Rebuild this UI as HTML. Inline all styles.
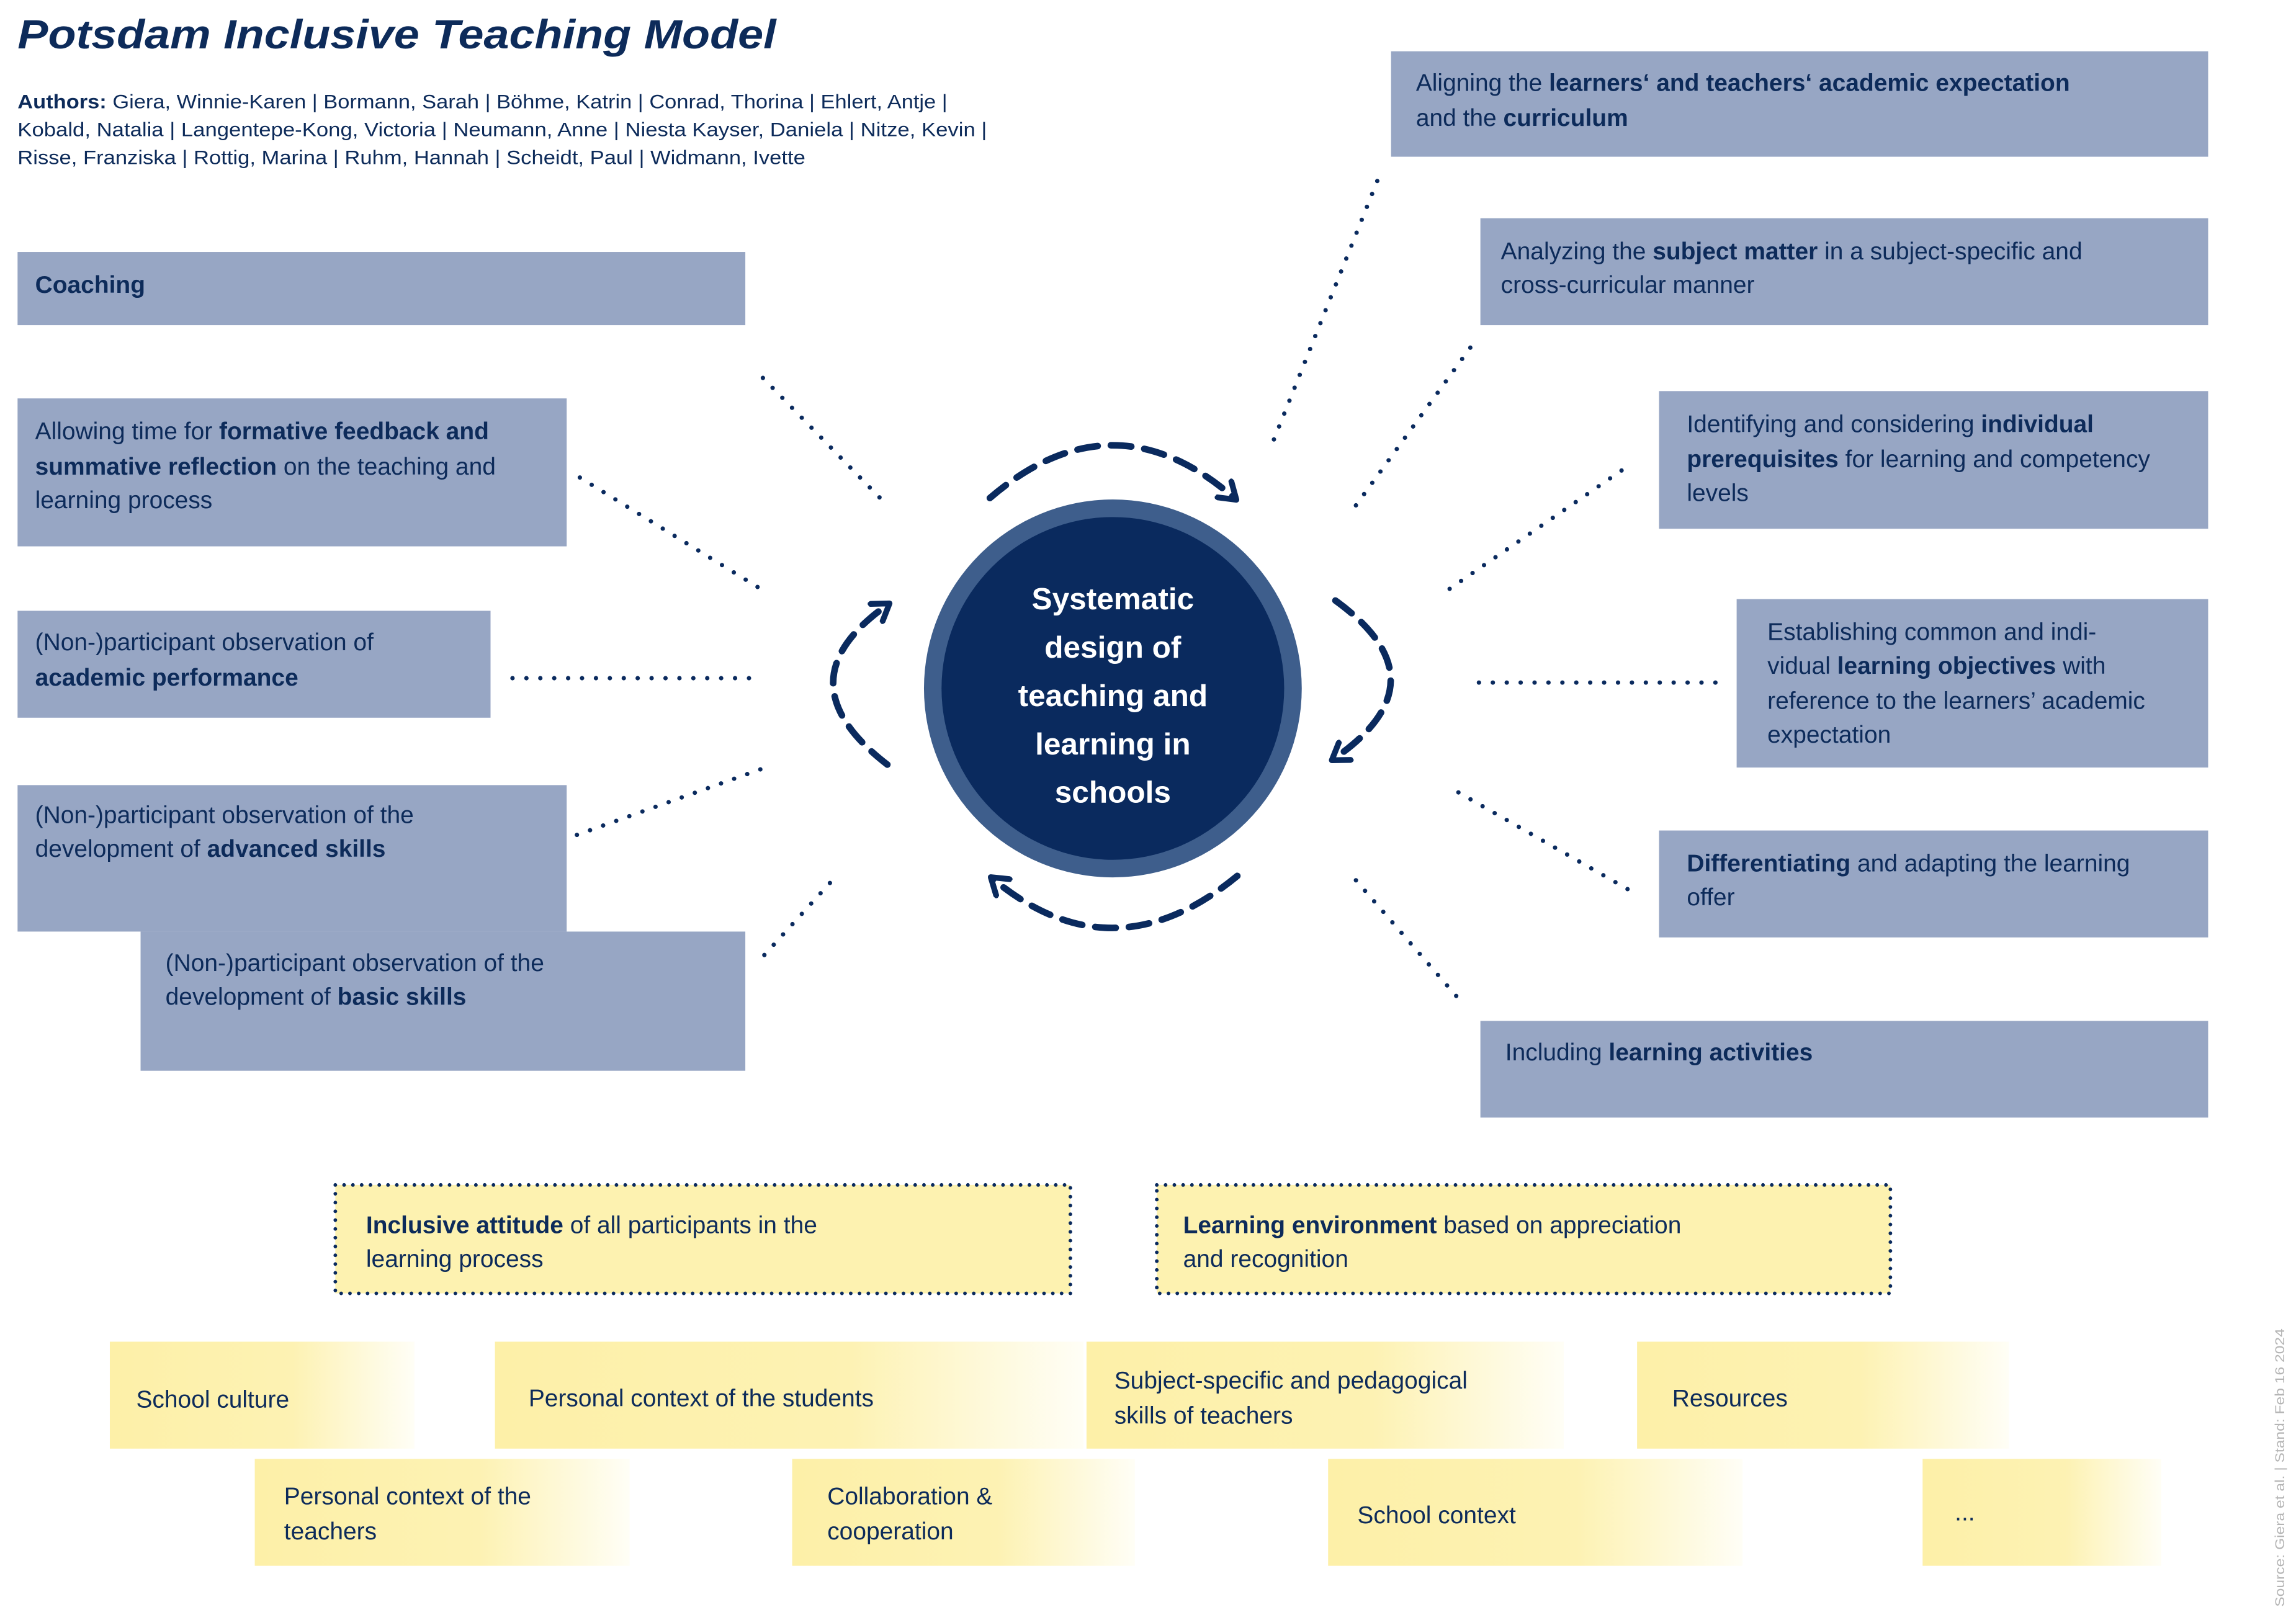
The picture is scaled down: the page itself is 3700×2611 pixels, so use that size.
<!DOCTYPE html>
<html><head><meta charset="utf-8"><style>
html,body{margin:0;padding:0;background:#fff;}
svg{display:block;}
text{font-family:"Liberation Sans",sans-serif;fill:#0d2b5a;}
.t{font-size:16.5px;}
.b{font-weight:bold;}
</style></head><body>
<svg width="3700" height="2611" viewBox="0 0 1568 1106" preserveAspectRatio="none" xmlns="http://www.w3.org/2000/svg">
<defs>
<linearGradient id="fade" x1="0" y1="0" x2="1" y2="0">
<stop offset="0" stop-color="#fdf0a8"/><stop offset="0.6" stop-color="#fdf2b3"/><stop offset="1" stop-color="#fffef6"/>
</linearGradient>
<marker id="ah" viewBox="0 0 10 10" refX="6" refY="5" markerWidth="4" markerHeight="4" orient="auto" markerUnits="strokeWidth">
<path d="M1,1 L7,5 L1,9" fill="none" stroke="#0a2a5e" stroke-width="2.2" stroke-linecap="round" stroke-linejoin="round"/>
</marker>
</defs>
<rect width="1568" height="1106" fill="#fff"/>
<text x="12" y="33" font-size="28" font-weight="bold" font-style="italic" textLength="518" lengthAdjust="spacingAndGlyphs" fill="#0a2a5e">Potsdam Inclusive Teaching Model</text>
<text x="12" y="74" font-size="13.5" textLength="635" lengthAdjust="spacingAndGlyphs"><tspan class="b">Authors:</tspan> Giera, Winnie-Karen | Bormann, Sarah | Böhme, Katrin | Conrad, Thorina | Ehlert, Antje |</text>
<text x="12" y="93" font-size="13.5" textLength="662" lengthAdjust="spacingAndGlyphs">Kobald, Natalia | Langentepe-Kong, Victoria | Neumann, Anne | Niesta Kayser, Daniela | Nitze, Kevin |</text>
<text x="12" y="112" font-size="13.5" textLength="538" lengthAdjust="spacingAndGlyphs">Risse, Franziska | Rottig, Marina | Ruhm, Hannah | Scheidt, Paul | Widmann, Ivette</text>

<g fill="#97a6c4">
<rect x="12" y="172" width="497" height="50"/>
<rect x="12" y="272" width="375" height="101"/>
<rect x="12" y="417" width="323" height="73"/>
<rect x="12" y="536" width="375" height="100"/>
<rect x="96" y="636" width="413" height="95"/>
<rect x="950" y="35" width="558" height="72"/>
<rect x="1011" y="149" width="497" height="73"/>
<rect x="1133" y="267" width="375" height="94"/>
<rect x="1186" y="409" width="322" height="115"/>
<rect x="1133" y="567" width="375" height="73"/>
<rect x="1011" y="697" width="497" height="66"/>
</g>
<g class="t">
<text x="24" y="200" class="t b">Coaching</text>
<text x="24" y="300" class="t">Allowing time for <tspan class="b">formative feedback and</tspan></text>
<text x="24" y="324" class="t"><tspan class="b">summative reflection</tspan> on the teaching and</text>
<text x="24" y="347" class="t">learning process</text>
<text x="24" y="444" class="t">(Non-)participant observation of</text>
<text x="24" y="468" class="t b">academic performance</text>
<text x="24" y="562" class="t">(Non-)participant observation of the</text>
<text x="24" y="585" class="t">development of <tspan class="b">advanced skills</tspan></text>
<text x="113" y="663" class="t">(Non-)participant observation of the</text>
<text x="113" y="686" class="t">development of <tspan class="b">basic skills</tspan></text>
<text x="967" y="62" class="t">Aligning the <tspan class="b">learners‘ and teachers‘ academic expectation</tspan></text>
<text x="967" y="86" class="t">and the <tspan class="b">curriculum</tspan></text>
<text x="1025" y="177" class="t">Analyzing the <tspan class="b">subject matter</tspan> in a subject-specific and</text>
<text x="1025" y="200" class="t">cross-curricular manner</text>
<text x="1152" y="295" class="t">Identifying and considering <tspan class="b">individual</tspan></text>
<text x="1152" y="319" class="t"><tspan class="b">prerequisites</tspan> for learning and competency</text>
<text x="1152" y="342" class="t">levels</text>
<text x="1207" y="437" class="t">Establishing common and indi-</text>
<text x="1207" y="460" class="t">vidual <tspan class="b">learning objectives</tspan> with</text>
<text x="1207" y="484" class="t">reference to the learners’ academic</text>
<text x="1207" y="507" class="t">expectation</text>
<text x="1152" y="595" class="t"><tspan class="b">Differentiating</tspan> and adapting the learning</text>
<text x="1152" y="618" class="t">offer</text>
<text x="1028" y="724" class="t">Including <tspan class="b">learning activities</tspan></text>
</g>

<g stroke="#0a2a5e" stroke-width="3" stroke-linecap="round" stroke-dasharray="0 9.5" fill="none">
<line x1="521" y1="258" x2="603" y2="342"/>
<line x1="396" y1="326" x2="521" y2="403"/>
<line x1="350" y1="463" x2="516" y2="463"/>
<line x1="394" y1="570" x2="520" y2="525"/>
<line x1="522" y1="652" x2="573" y2="596"/>
<line x1="870" y1="300" x2="942" y2="120"/>
<line x1="926" y1="345" x2="1008" y2="232"/>
<line x1="990" y1="402" x2="1115" y2="316"/>
<line x1="1010" y1="466" x2="1175" y2="466"/>
<line x1="996" y1="541" x2="1115" y2="609"/>
<line x1="926" y1="601" x2="998" y2="684"/>
</g>

<circle cx="760" cy="470" r="129" fill="#3e5e8c"/>
<circle cx="760" cy="470" r="117" fill="#0a2a5e"/>
<g font-size="21" font-weight="bold" text-anchor="middle">
<text x="760" y="416" style="fill:#fff">Systematic</text>
<text x="760" y="449" style="fill:#fff">design of</text>
<text x="760" y="482" style="fill:#fff">teaching and</text>
<text x="760" y="515" style="fill:#fff">learning in</text>
<text x="760" y="548" style="fill:#fff">schools</text>
</g>

<g fill="none" stroke="#0a2a5e" stroke-width="4.5" stroke-linecap="round" stroke-dasharray="14 9">
<path d="M676,340 Q760,268 843,340" marker-end="url(#ah)"/>
<path d="M912,410 Q988,465 911,518" marker-end="url(#ah)"/>
<path d="M845,598 Q760,668 678,600" marker-end="url(#ah)"/>
<path d="M606,522 Q532,465 606,413" marker-end="url(#ah)"/>
</g>

<g fill="#fdf2b0" stroke="#0a2a5e" stroke-width="2.5" stroke-dasharray="0 6" stroke-linecap="round">
<rect x="229" y="809" width="502" height="74"/>
<rect x="790" y="809" width="501" height="74"/>
</g>
<text x="250" y="842" class="t"><tspan class="b">Inclusive attitude</tspan> of all participants in the</text>
<text x="250" y="865" class="t">learning process</text>
<text x="808" y="842" class="t"><tspan class="b">Learning environment</tspan> based on appreciation</text>
<text x="808" y="865" class="t">and recognition</text>

<g fill="url(#fade)">
<rect x="75" y="916" width="208" height="73"/>
<rect x="338" y="916" width="402" height="73"/>
<rect x="742" y="916" width="326" height="73"/>
<rect x="1118" y="916" width="254" height="73"/>
<rect x="174" y="996" width="256" height="73"/>
<rect x="541" y="996" width="234" height="73"/>
<rect x="907" y="996" width="283" height="73"/>
<rect x="1313" y="996" width="163" height="73"/>
</g>
<g class="t">
<text x="93" y="961" class="t">School culture</text>
<text x="361" y="960" class="t">Personal context of the students</text>
<text x="761" y="948" class="t">Subject-specific and pedagogical</text>
<text x="761" y="972" class="t">skills of teachers</text>
<text x="1142" y="960" class="t">Resources</text>
<text x="194" y="1027" class="t">Personal context of the</text>
<text x="194" y="1051" class="t">teachers</text>
<text x="565" y="1027" class="t">Collaboration &amp;</text>
<text x="565" y="1051" class="t">cooperation</text>
<text x="927" y="1040" class="t">School context</text>
<text x="1335" y="1038" class="t">...</text>
</g>
<text transform="translate(1560,1097) rotate(-90)" font-size="9" style="fill:#b5b5b5" textLength="190" lengthAdjust="spacingAndGlyphs">Source: Giera et al. | Stand: Feb 16 2024</text>
</svg>
</body></html>
